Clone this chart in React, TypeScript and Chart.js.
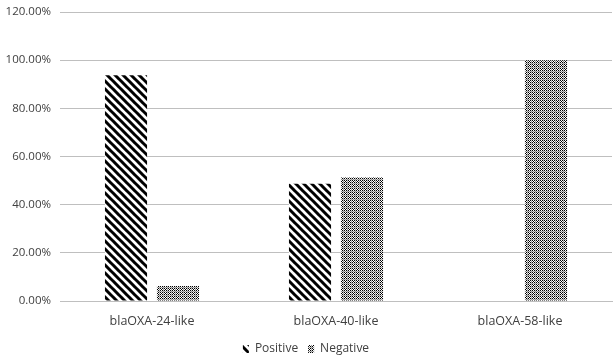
import React, { useEffect, useRef } from "react";
import { Chart, registerables } from "chart.js";

Chart.register(...registerables);

const categories = ["blaOXA-24-like", "blaOXA-40-like", "blaOXA-58-like"];
const positiveValues = [93.75, 48.7, 0];
const negativeValues = [6.25, 51.3, 100];
const seriesNames = ["Positive", "Negative"];

function makeStripePattern(): CanvasPattern | string {
  const c = document.createElement("canvas");
  c.width = 8;
  c.height = 8;
  const ctx = c.getContext("2d");
  if (!ctx) return "#000";
  ctx.fillStyle = "#ffffff";
  ctx.fillRect(0, 0, 8, 8);
  ctx.strokeStyle = "#000000";
  ctx.lineWidth = 3.0;
  ctx.beginPath();
  for (let k = -2; k <= 2; k++) {
    ctx.moveTo(k * 8 - 1, -1);
    ctx.lineTo(k * 8 + 9, 9);
  }
  ctx.stroke();
  const p = ctx.createPattern(c, "repeat");
  return p || "#000";
}

function makeDotPattern(): CanvasPattern | string {
  const c = document.createElement("canvas");
  c.width = 4;
  c.height = 4;
  const ctx = c.getContext("2d");
  if (!ctx) return "#888";
  ctx.fillStyle = "#ffffff";
  ctx.fillRect(0, 0, 4, 4);
  for (let x = 0; x < 4; x++) {
    for (let y = 0; y < 4; y++) {
      if ((x + y) % 2 === 0) {
        ctx.fillStyle = x === 3 || y === 3 ? "#8a8a8a" : "#000000";
        ctx.fillRect(x, y, 1, 1);
      } else if (x === 3 || y === 3) {
        ctx.fillStyle = "#d0d0d0";
        ctx.fillRect(x, y, 1, 1);
      }
    }
  }
  const p = ctx.createPattern(c, "repeat");
  return p || "#888";
}

export default function App() {
  const ref = useRef<HTMLCanvasElement>(null);
  useEffect(() => {
    if (!ref.current) return;
    const stripes = makeStripePattern();
    const dots = makeDotPattern();
    const family = "'Open Sans', 'Noto Sans', sans-serif";
    const chart = new Chart(ref.current, {
      type: "bar",
      data: {
        labels: categories,
        datasets: [
          {
            label: seriesNames[0],
            data: positiveValues,
            backgroundColor: stripes as any,
            borderWidth: 0,
            categoryPercentage: 0.565,
            barPercentage: 0.81,
          },
          {
            label: seriesNames[1],
            data: negativeValues,
            backgroundColor: dots as any,
            borderWidth: 0,
            categoryPercentage: 0.565,
            barPercentage: 0.81,
          },
        ],
      },
      options: {
        animation: false,
        responsive: false,
        maintainAspectRatio: false,
        layout: { padding: { top: 0, right: 4, left: 0, bottom: -9 } },
        plugins: {
          tooltip: { enabled: false },
          legend: {
            position: "bottom",
            labels: {
              boxWidth: 6,
              boxHeight: 8,
              padding: 10,
              color: "#404040",
              font: { family, size: 12 },
            },
          },
        },
        scales: {
          x: {
            grid: { display: false, drawTicks: false },
            border: { color: "#bfbfbf", width: 1 },
            ticks: { color: "#404040", font: { family, size: 12.5 }, padding: 13 },
            afterFit: (s: any) => {
              s.height = 32;
            },
          },
          y: {
            min: 0,
            max: 120,
            grid: { color: "#bfbfbf", drawTicks: false },
            border: { display: false },
            ticks: {
              stepSize: 20,
              color: "#404040",
              font: { family, size: 11.5 },
              padding: 9,
              callback: (v: any) => Number(v).toFixed(2) + "%",
            },
            afterFit: (s: any) => {
              s.width = 60;
              s.paddingTop = 12;
              s.paddingBottom = 0;
            },
          },
        },
      },
    });
    return () => chart.destroy();
  }, []);
  return (
    <div style={{ position: "fixed", left: 0, top: 0, width: 616, height: 356, background: "#fff" }}>
      <canvas ref={ref} width={616} height={356} style={{ width: 616, height: 356 }} />
    </div>
  );
}
